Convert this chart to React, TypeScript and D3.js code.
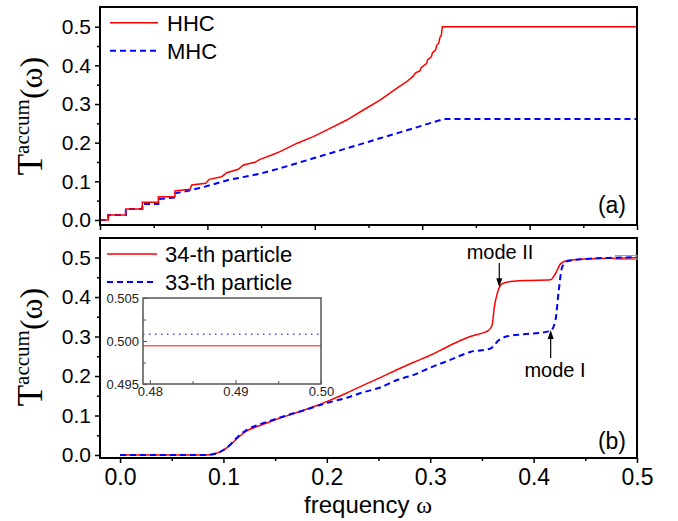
import { useEffect, useRef } from "react";
import * as d3 from "d3";

// panel (a): accumulated transmission, HHC vs MHC
const hhc: [number, number][] = [
  [0, 0], [0.0077, 0], [0.0077, 0.0129], [0.024, 0.0129], [0.024, 0.0284], [0.0394, 0.0284],
  [0.0394, 0.0458], [0.0543, 0.0458], [0.0543, 0.0603], [0.0698, 0.0603], [0.0698, 0.075],
  [0.0838, 0.0794], [0.0854, 0.0905], [0.0985, 0.0948], [0.1016, 0.1052], [0.1133, 0.112],
  [0.118, 0.1224], [0.1288, 0.1312], [0.1335, 0.1422], [0.1443, 0.1491], [0.149, 0.1569],
  [0.1599, 0.1681], [0.1676, 0.1767], [0.1831, 0.198], [0.1986, 0.2155], [0.2142, 0.237],
  [0.2297, 0.2586], [0.2452, 0.2845], [0.2607, 0.31], [0.2762, 0.3405], [0.2855, 0.3577],
  [0.2917, 0.372], [0.2935, 0.38], [0.298, 0.386], [0.299, 0.394], [0.3042, 0.405],
  [0.305, 0.414], [0.3085, 0.422], [0.3095, 0.432], [0.3125, 0.44], [0.3135, 0.452],
  [0.3155, 0.458], [0.3165, 0.472], [0.3178, 0.478], [0.3187, 0.5], [0.5, 0.5],
];
const mhc: [number, number][] = [
  [0, 0], [0.0077, 0], [0.0077, 0.0129], [0.024, 0.0129], [0.024, 0.0284], [0.0394, 0.0284],
  [0.0394, 0.0414], [0.0543, 0.0414], [0.0543, 0.0543], [0.0698, 0.058], [0.0698, 0.069],
  [0.0854, 0.0776], [0.0978, 0.0862], [0.1195, 0.1034], [0.1505, 0.1207], [0.1676, 0.1337],
  [0.1986, 0.1595], [0.2297, 0.1854], [0.2607, 0.2113], [0.2917, 0.237], [0.3197, 0.261],
  [0.5, 0.261],
];

// panel (b): 34-th and 33-th particle
const particle34: [number, number][] = [
  [0, 0], [0.084, 0], [0.09, 0.002], [0.095, 0.006], [0.1, 0.0126], [0.1065, 0.025],
  [0.1097, 0.033], [0.116, 0.048], [0.1226, 0.061], [0.1323, 0.072], [0.142, 0.081],
  [0.155, 0.094], [0.1646, 0.102], [0.174, 0.11], [0.187, 0.122], [0.1968, 0.132],
  [0.2033, 0.139], [0.2194, 0.157], [0.2355, 0.177], [0.2517, 0.196], [0.2678, 0.216],
  [0.284, 0.235], [0.3, 0.2525], [0.3098, 0.265], [0.326, 0.286], [0.3388, 0.3],
  [0.3517, 0.31], [0.356, 0.315], [0.3598, 0.328], [0.362, 0.3745], [0.3647, 0.408],
  [0.3695, 0.4336], [0.3807, 0.4402], [0.397, 0.442], [0.4163, 0.4437], [0.4211, 0.459],
  [0.426, 0.484], [0.4324, 0.4924], [0.4453, 0.4955], [0.478, 0.4985], [0.5, 0.4994],
];
const particle33: [number, number][] = [
  [0, 0], [0.084, 0], [0.09, 0.002], [0.095, 0.006], [0.1, 0.0126], [0.1065, 0.026],
  [0.1097, 0.035], [0.116, 0.051], [0.1226, 0.064], [0.1323, 0.075], [0.142, 0.084],
  [0.155, 0.095], [0.1646, 0.103], [0.174, 0.11], [0.187, 0.121], [0.1968, 0.129],
  [0.2033, 0.134], [0.2194, 0.145], [0.2355, 0.159], [0.2517, 0.171], [0.2678, 0.19],
  [0.284, 0.203], [0.3, 0.221], [0.3195, 0.241], [0.3388, 0.261], [0.3582, 0.2694],
  [0.3662, 0.2904], [0.3743, 0.3005], [0.3904, 0.3056], [0.4163, 0.314], [0.4211, 0.341],
  [0.4243, 0.4167], [0.4276, 0.4756], [0.4324, 0.4907], [0.4453, 0.4955], [0.478, 0.4995],
  [0.5, 0.5007],
];

// inset: zoom of the plateau
const inset34 = 0.49945;
const inset33 = 0.50078;

const majorY = [0, 0.1, 0.2, 0.3, 0.4, 0.5];
const minorY = [0.05, 0.15, 0.25, 0.35, 0.45];
const majorX = [0, 0.1, 0.2, 0.3, 0.4, 0.5];
const minorX = [0.05, 0.15, 0.25, 0.35, 0.45];
const insetXTicks = [0.48, 0.49, 0.5];
const insetXMinor = [0.485, 0.495];
const insetYTicks = [0.495, 0.5, 0.505];
const insetYMinor = [0.4975, 0.5025];
const legendA = ["HHC", "MHC"];
const legendB = ["34-th particle", "33-th particle"];
// text position, arrow x, arrow tail and tip (data units of panel b)
const modeLabels = [
  { text: "mode II", tx: 0.3675, ty: 0.496, ax: 0.3668, tail: 0.486, tip: 0.4246 },
  { text: "mode I", tx: 0.4207, ty: 0.1975, ax: 0.4165, tail: 0.2456, tip: 0.3165 },
];

const RED = "#ff0000";
const BLUE = "#0000ff";
const SANS = "'Liberation Sans', Arial, sans-serif";
const SERIF = "'Liberation Serif', 'Times New Roman', serif";

const App = () => {
  const svgRef = useRef<SVGSVGElement>(null);

  useEffect(() => {
    const width = 678, height = 521;
    const left = 100, right = 637;
    const svg = d3.select(svgRef.current);
    svg.selectAll("*").remove();
    svg.attr("width", width).attr("height", height);

    const top = { t: 7, b: 225 };
    const bot = { t: 238, b: 458 };

    const xA = d3.scaleLinear().domain([0, 0.5]).range([left, right]);
    const yA = d3.scaleLinear().domain([-0.013, 0.551]).range([top.b, top.t]);
    const xB = d3.scaleLinear().domain([-0.0194, 0.5]).range([left, right]);
    const yB = d3.scaleLinear().domain([-0.0076, 0.5495]).range([bot.b, bot.t]);

    const styleAxis = (g, fs) => {
      g.select(".domain").remove();
      g.selectAll("line").attr("stroke", "#000").attr("stroke-width", 1.5);
      g.selectAll("text").attr("font-family", SANS).attr("font-size", fs).attr("fill", "#000");
    };

    const yAxes = (y) => {
      svg.append("g").attr("transform", `translate(${left},0)`)
        .call(d3.axisLeft(y).tickValues(majorY).tickSize(5).tickPadding(4).tickFormat(d3.format(".1f")))
        .call(g => styleAxis(g, 21));
      svg.append("g").attr("transform", `translate(${left},0)`)
        .call(d3.axisLeft(y).tickValues(minorY).tickSize(3).tickFormat(() => ""))
        .call(g => styleAxis(g, 21));
    };
    yAxes(yA);
    yAxes(yB);

    // top panel x ticks (no labels)
    svg.append("g").attr("transform", `translate(0,${top.b})`)
      .call(d3.axisBottom(xA).tickValues(majorX).tickSize(5).tickFormat(() => ""))
      .call(g => styleAxis(g, 20));
    svg.append("g").attr("transform", `translate(0,${top.b})`)
      .call(d3.axisBottom(xA).tickValues(minorX).tickSize(3).tickFormat(() => ""))
      .call(g => styleAxis(g, 20));
    // bottom panel x ticks
    svg.append("g").attr("transform", `translate(0,${bot.b})`)
      .call(d3.axisBottom(xB).tickValues(majorX).tickSize(5).tickPadding(6).tickFormat(d3.format(".1f")))
      .call(g => styleAxis(g, 23));
    svg.append("g").attr("transform", `translate(0,${bot.b})`)
      .call(d3.axisBottom(xB).tickValues(minorX).tickSize(3).tickFormat(() => ""))
      .call(g => styleAxis(g, 23));

    const lineA = d3.line<[number, number]>().x(d => xA(d[0])).y(d => yA(d[1]));
    const lineB = d3.line<[number, number]>().x(d => xB(d[0])).y(d => yB(d[1])).curve(d3.curveMonotoneX);

    svg.append("path").datum(mhc).attr("d", lineA).attr("fill", "none")
      .attr("stroke", BLUE).attr("stroke-width", 2).attr("stroke-dasharray", "6,4");
    svg.append("path").datum(hhc).attr("d", lineA).attr("fill", "none")
      .attr("stroke", RED).attr("stroke-width", 1.5);

    svg.append("path").datum(particle34).attr("d", lineB).attr("fill", "none")
      .attr("stroke", RED).attr("stroke-width", 1.5);
    svg.append("path").datum(particle33).attr("d", lineB).attr("fill", "none")
      .attr("stroke", BLUE).attr("stroke-width", 2).attr("stroke-dasharray", "6,4");

    // frames
    [top, bot].forEach(p => {
      svg.append("rect").attr("x", left).attr("y", p.t).attr("width", right - left).attr("height", p.b - p.t)
        .attr("fill", "none").attr("stroke", "#000").attr("stroke-width", 2);
    });

    // inset marker box in panel (b)
    svg.append("rect").attr("x", xB(0.4792)).attr("y", yB(0.505))
      .attr("width", xB(0.5) - xB(0.4792)).attr("height", yB(0.495) - yB(0.505))
      .attr("fill", "none").attr("stroke", "#999").attr("stroke-width", 1);

    // legends
    const legend = (labels, y0, t) => {
      labels.forEach((lab, i) => {
        const y = y0 + i * 28;
        svg.append("line").attr("x1", t.x1).attr("x2", t.x2).attr("y1", y).attr("y2", y)
          .attr("stroke", i === 0 ? RED : BLUE).attr("stroke-width", i === 0 ? 1.5 : 2)
          .attr("stroke-dasharray", i === 0 ? null : "6,4");
        svg.append("text").attr("x", t.tx).attr("y", y + 8).text(lab)
          .attr("font-family", SANS).attr("font-size", 22);
      });
    };
    legend(legendA, 22.7, { x1: 110, x2: 158, tx: 167 });
    legend(legendB, 254, { x1: 107, x2: 157, tx: 165 });

    // panel letters
    svg.append("text").attr("x", 626).attr("y", 213).attr("text-anchor", "end")
      .attr("font-family", SANS).attr("font-size", 23).text("(a)");
    svg.append("text").attr("x", 626).attr("y", 449).attr("text-anchor", "end")
      .attr("font-family", SANS).attr("font-size", 23).text("(b)");

    // mode annotations
    modeLabels.forEach(m => {
      const x = xB(m.ax);
      const tail = yB(m.tail);
      const tip = yB(m.tip);
      const dir = tip > tail ? 1 : -1;
      svg.append("text").attr("x", xB(m.tx)).attr("y", yB(m.ty))
        .attr("text-anchor", "middle").attr("font-family", SANS).attr("font-size", 20).text(m.text);
      svg.append("line").attr("x1", x).attr("x2", x).attr("y1", tail).attr("y2", tip - dir * 6)
        .attr("stroke", "#000").attr("stroke-width", 1.2);
      svg.append("path")
        .attr("d", `M${x - 3},${tip - dir * 9} L${x + 3},${tip - dir * 9} L${x},${tip} Z`)
        .attr("fill", "#000");
    });

    // inset
    const xi = d3.scaleLinear().domain([0.4792, 0.5]).range([143, 321]);
    const yi = d3.scaleLinear().domain([0.495, 0.505]).range([384, 298]);
    const ig = svg.append("g");
    ig.append("rect").attr("x", 143).attr("y", 298).attr("width", 178).attr("height", 86).attr("fill", "#fff");
    ig.append("line").attr("x1", xi(0.4792)).attr("x2", xi(0.5)).attr("y1", yi(inset34)).attr("y2", yi(inset34))
      .attr("stroke", RED).attr("stroke-opacity", 0.65).attr("stroke-width", 1.5);
    ig.append("line").attr("x1", xi(0.4792)).attr("x2", xi(0.5)).attr("y1", yi(inset33)).attr("y2", yi(inset33))
      .attr("stroke", "#3050ff").attr("stroke-width", 1.5).attr("stroke-dasharray", "1.5,4.5");
    const styleInset = g => {
      g.select(".domain").remove();
      g.selectAll("line").attr("stroke", "#555").attr("stroke-width", 1);
      g.selectAll("text").attr("font-family", SANS).attr("font-size", 13).attr("fill", "#222");
    };
    ig.append("g").attr("transform", "translate(143,0)")
      .call(d3.axisLeft(yi).tickValues(insetYTicks).tickSize(-4).tickPadding(4).tickFormat(d3.format(".3f")))
      .call(styleInset);
    ig.append("g").attr("transform", "translate(143,0)")
      .call(d3.axisLeft(yi).tickValues(insetYMinor).tickSize(-3).tickFormat(() => ""))
      .call(styleInset);
    ig.append("g").attr("transform", "translate(0,384)")
      .call(d3.axisBottom(xi).tickValues(insetXTicks).tickSize(-4).tickPadding(3).tickFormat(d3.format(".2f")))
      .call(styleInset);
    ig.append("g").attr("transform", "translate(0,384)")
      .call(d3.axisBottom(xi).tickValues(insetXMinor).tickSize(-3).tickFormat(() => ""))
      .call(styleInset);
    ig.append("rect").attr("x", 143).attr("y", 298).attr("width", 178).attr("height", 86)
      .attr("fill", "none").attr("stroke", "#555").attr("stroke-width", 1.5);

    // axis titles
    const yTitle = (cy) => {
      const t = svg.append("text").attr("transform", `translate(42,${cy}) rotate(-90)`)
        .attr("text-anchor", "middle").attr("font-family", SERIF).attr("fill", "#000");
      t.append("tspan").attr("font-size", 35).text("T");
      t.append("tspan").attr("font-size", 21).attr("dy", -13).text("accum");
      t.append("tspan").attr("font-size", 32).attr("dy", 13).text("(ω)");
    };
    yTitle(116);
    yTitle(347);

    const xt = svg.append("text").attr("x", 368).attr("y", 513).attr("text-anchor", "middle")
      .attr("font-family", SANS).attr("font-size", 24);
    xt.append("tspan").text("frequency ");
    xt.append("tspan").attr("font-family", SERIF).text("ω");
  }, []);

  return <svg ref={svgRef} style={{ position: "absolute", left: 0, top: 0 }} />;
};

export default App;
